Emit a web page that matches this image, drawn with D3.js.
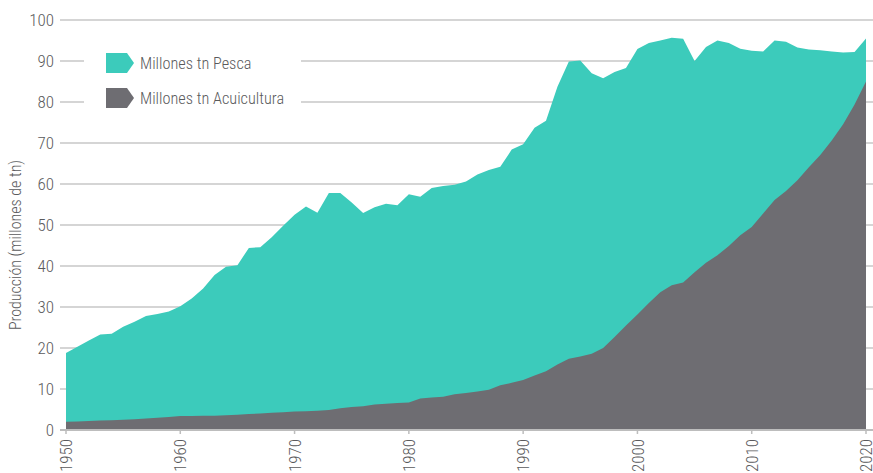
<!DOCTYPE html>
<html>
<head>
<meta charset="utf-8">
<script src="https://cdn.jsdelivr.net/npm/d3@7"></script>
<style>
    body { margin: 0; background: #fff; }
    text { font-family: "Liberation Sans Narrow", "Arial Narrow", "Roboto Condensed", sans-serif; font-weight: 300; fill: #5a5a5c; }
</style>
</head>
<body>
<script>
// Chart dimension
const width = 873;
const height = 473;

// Data
const years = d3.range(1950, 2021);

const pesca = [
    18.8, 20.3, 21.8, 23.3, 23.5, 25.2, 26.4, 27.8, 28.3, 28.9,
    30.2, 32.1, 34.5, 37.8, 39.8, 40.2, 44.4, 44.6, 47.0, 49.8,
    52.5, 54.5, 53.0, 57.8, 57.8, 55.5, 52.9, 54.3, 55.2, 54.8,
    57.5, 56.9, 59.0, 59.5, 59.8, 60.6, 62.3, 63.4, 64.2, 68.4,
    69.7, 73.7, 75.4, 83.7, 89.9, 90.1, 87.0, 85.8, 87.3, 88.3,
    92.9, 94.4, 95.0, 95.7, 95.4, 90.0, 93.4, 95.0, 94.4, 93.0,
    92.5, 92.3, 95.0, 94.7, 93.3, 92.8, 92.6, 92.3, 92.1, 92.2,
    95.5
];

const acuicultura = [
    2.0, 2.1, 2.2, 2.3, 2.4, 2.5, 2.6, 2.8, 3.0, 3.2,
    3.4, 3.4, 3.5, 3.5, 3.6, 3.7, 3.9, 4.0, 4.2, 4.3,
    4.5, 4.6, 4.7, 4.9, 5.3, 5.6, 5.8, 6.2, 6.4, 6.6,
    6.7, 7.7, 7.9, 8.1, 8.7, 9.0, 9.4, 9.8, 10.9, 11.5,
    12.2, 13.3, 14.3, 16.0, 17.4, 17.9, 18.6, 20.0, 22.7, 25.5,
    28.2, 31.0, 33.6, 35.3, 36.0, 38.5, 40.8, 42.6, 44.9, 47.5,
    49.5, 52.8, 56.1, 58.3, 60.9, 64.1, 67.1, 70.6, 74.6, 79.4,
    85.0
];

const yTicks = [0, 10, 20, 30, 40, 50, 60, 70, 80, 90, 100];
const xTicks = [1950, 1960, 1970, 1980, 1990, 2000, 2010, 2020];

const seriesNames = ["Millones tn Pesca", "Millones tn Acuicultura"];
const seriesColors = ["#3ccbbb", "#6e6d72"];

// Create SVG
const svg = d3.select("body")
    .append("svg")
    .attr("width", width)
    .attr("height", height);

// Scales
const x = d3.scaleLinear()
    .domain([1950, 2020])
    .range([66, 866]);

const y = d3.scaleLinear()
    .domain([0, 100])
    .range([430, 20]);

// Gridlines
svg.selectAll(".grid")
    .data(yTicks.filter(d => d > 0))
    .enter()
    .append("line")
    .attr("class", "grid")
    .attr("x1", 60)
    .attr("x2", width)
    .attr("y1", d => y(d))
    .attr("y2", d => y(d))
    .attr("stroke", "#ababab")
    .attr("stroke-width", 1);

// Y tick labels
svg.selectAll(".ylabel")
    .data(yTicks)
    .enter()
    .append("text")
    .attr("class", "ylabel")
    .attr("x", 54)
    .attr("y", d => y(d))
    .attr("dy", "0.36em")
    .attr("text-anchor", "end")
    .style("font-size", "17px")
    .text(d => d);

// Areas (overlapping, not stacked)
const area = values => d3.area()
    .x((d, i) => x(years[i]))
    .y0(y(0))
    .y1(d => y(d))(values);

svg.append("path")
    .attr("d", area(pesca))
    .attr("fill", seriesColors[0]);

svg.append("path")
    .attr("d", area(acuicultura))
    .attr("fill", seriesColors[1]);

// X axis line and ticks
svg.append("line")
    .attr("x1", 60)
    .attr("x2", width)
    .attr("y1", y(0))
    .attr("y2", y(0))
    .attr("stroke", "#bdbdbd")
    .attr("stroke-width", 2);

svg.selectAll(".xtick")
    .data(xTicks)
    .enter()
    .append("line")
    .attr("class", "xtick")
    .attr("x1", d => x(d))
    .attr("x2", d => x(d))
    .attr("y1", y(0))
    .attr("y2", y(0) + 4)
    .attr("stroke", "#bdbdbd")
    .attr("stroke-width", 1.5);

// X tick labels, rotated
svg.selectAll(".xlabel")
    .data(xTicks)
    .enter()
    .append("text")
    .attr("class", "xlabel")
    .attr("transform", d => `translate(${x(d)}, 439) rotate(-90)`)
    .attr("dy", "0.36em")
    .attr("text-anchor", "end")
    .style("font-size", "17px")
    .text(d => d);

// Y axis title
svg.append("text")
    .attr("transform", "rotate(-90)")
    .attr("x", -245)
    .attr("y", 21)
    .attr("text-anchor", "middle")
    .style("font-size", "16px")
    .text("Producción (millones de tn)");

// Legend with white background
const legend = svg.append("g");

legend.append("rect")
    .attr("x", 84)
    .attr("y", 42)
    .attr("width", 217)
    .attr("height", 78)
    .attr("fill", "#fff");

seriesNames.forEach((name, i) => {
    const top = 53 + i * 35;
    legend.append("path")
        .attr("d", `M106,${top}H127L134,${top + 10}L127,${top + 20}H106Z`)
        .attr("fill", seriesColors[i]);
    legend.append("text")
        .attr("x", 140)
        .attr("y", top + 10)
        .attr("dy", "0.36em")
        .style("font-size", "16.3px")
        .text(name);
});
</script>
</body>
</html>
